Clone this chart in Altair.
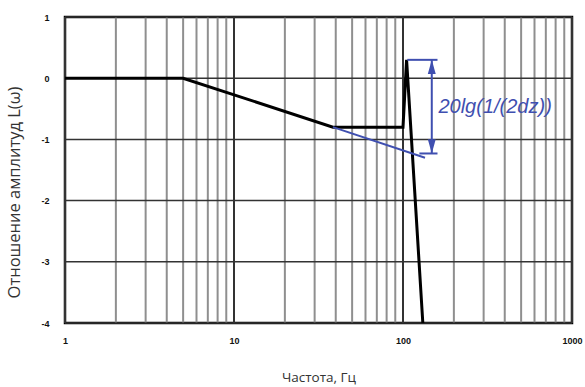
import altair as alt
import pandas as pd

# main response curve
freq = [1, 5, 38.5, 100, 105, 131]
amp = [0, 0, -0.8, -0.8, 0.3, -4]

# blue asymptote line
blue_freq = [38.5, 135]
blue_amp = [-0.8, -1.3]

# bracket lines
top_freq = [106, 160]
top_amp = [0.3, 0.3]
bot_freq = [125, 160]
bot_amp = [-1.23, -1.23]
arrow_freq = [148, 148]
arrow_amp = [0.3, -1.23]
label_text = ["20lg(1/(2dz))"]
label_freq = [162]
label_amp = [-0.47]

major_x = [1, 10, 100, 1000]
minor_x = [2, 3, 4, 5, 6, 7, 8, 9, 20, 30, 40, 50, 60, 70, 80, 90,
           200, 300, 400, 500, 600, 700, 800, 900]
y_ticks = [1, 0, -1, -2, -3, -4]

xscale = alt.Scale(type="log", domain=[1, 1000], nice=False)
yscale = alt.Scale(domain=[-4, 1], nice=False)

xaxis = alt.Axis(values=major_x, labelExpr="'' + datum.value", grid=False, ticks=False,
                 domain=False, labelFontWeight="bold", labelFontSize=9, labelColor="#111",
                 labelPadding=13, labelFlush=False, title="Частота, Гц", titleFont="Open Sans",
                 titleFontSize=13.5, titleFontWeight="normal", titleColor="#333", titlePadding=25)
yaxis = alt.Axis(values=y_ticks, labelExpr="'' + datum.value", grid=False, ticks=False,
                 domain=False, labelFontWeight="bold", labelFontSize=9, labelColor="#111",
                 labelPadding=16, title="Отношение амплитуд L(ω)", titleFont="Open Sans",
                 titleFontSize=16.5, titleFontWeight="normal", titleColor="#333", titlePadding=18,
                 titleY=175)

minor_df = pd.DataFrame({"f": minor_x})
major_df = pd.DataFrame({"f": major_x})
hgrid_df = pd.DataFrame({"a": y_ticks})

minor_rules = alt.Chart(minor_df).mark_rule(color="#8f8f8f", strokeWidth=2).encode(
    x=alt.X("f:Q", scale=xscale, axis=xaxis))
major_rules = alt.Chart(major_df).mark_rule(color="#333", strokeWidth=2).encode(
    x=alt.X("f:Q", scale=xscale))
h_rules = alt.Chart(hgrid_df).mark_rule(color="#333", strokeWidth=1.5).encode(
    y=alt.Y("a:Q", scale=yscale, axis=yaxis))

main_df = pd.DataFrame({"f": freq, "a": amp, "o": list(range(len(freq)))})
main_line = alt.Chart(main_df).mark_line(color="black", strokeWidth=3).encode(
    x=alt.X("f:Q", scale=xscale), y=alt.Y("a:Q", scale=yscale), order="o:Q")

blue = "#3f4fb0"

def seg(fx, ay):
    df = pd.DataFrame({"f": fx, "a": ay, "o": list(range(len(fx)))})
    return alt.Chart(df).mark_line(color=blue, strokeWidth=2).encode(
        x=alt.X("f:Q", scale=xscale), y=alt.Y("a:Q", scale=yscale), order="o:Q")

blue_line = seg(blue_freq, blue_amp)
top_line = seg(top_freq, top_amp)
bot_line = seg(bot_freq, bot_amp)
arrow_line = seg(arrow_freq, arrow_amp)

up_df = pd.DataFrame({"f": [arrow_freq[0]], "a": [arrow_amp[0]]})
down_df = pd.DataFrame({"f": [arrow_freq[1]], "a": [arrow_amp[1]]})
head_up = alt.Chart(up_df).mark_point(filled=True, color=blue, size=800, opacity=1,
                                      shape="M0,0L-0.28,1L0.28,1Z").encode(
    x=alt.X("f:Q", scale=xscale), y=alt.Y("a:Q", scale=yscale))
head_down = alt.Chart(down_df).mark_point(filled=True, color=blue, size=800, opacity=1,
                                          shape="M0,0L-0.28,-1L0.28,-1Z").encode(
    x=alt.X("f:Q", scale=xscale), y=alt.Y("a:Q", scale=yscale))

label_df = pd.DataFrame({"t": label_text, "f": label_freq, "a": label_amp})
label = alt.Chart(label_df).mark_text(color=blue, fontSize=20, fontStyle="italic",
                                      align="left", baseline="middle", font="Liberation Sans").encode(
    x=alt.X("f:Q", scale=xscale), y=alt.Y("a:Q", scale=yscale), text="t:N")

chart = alt.layer(minor_rules, major_rules, h_rules, main_line, blue_line, top_line,
                  bot_line, arrow_line, head_up, head_down, label).properties(
    width=507, height=306,
    autosize=alt.AutoSizeParams(type="none"),
    padding={"left": 65, "top": 17, "right": 13, "bottom": 64},
    background="white",
).configure_view(stroke="black", strokeWidth=2.5)

chart.save("out.html", embed_options={"renderer": "svg", "actions": False})
